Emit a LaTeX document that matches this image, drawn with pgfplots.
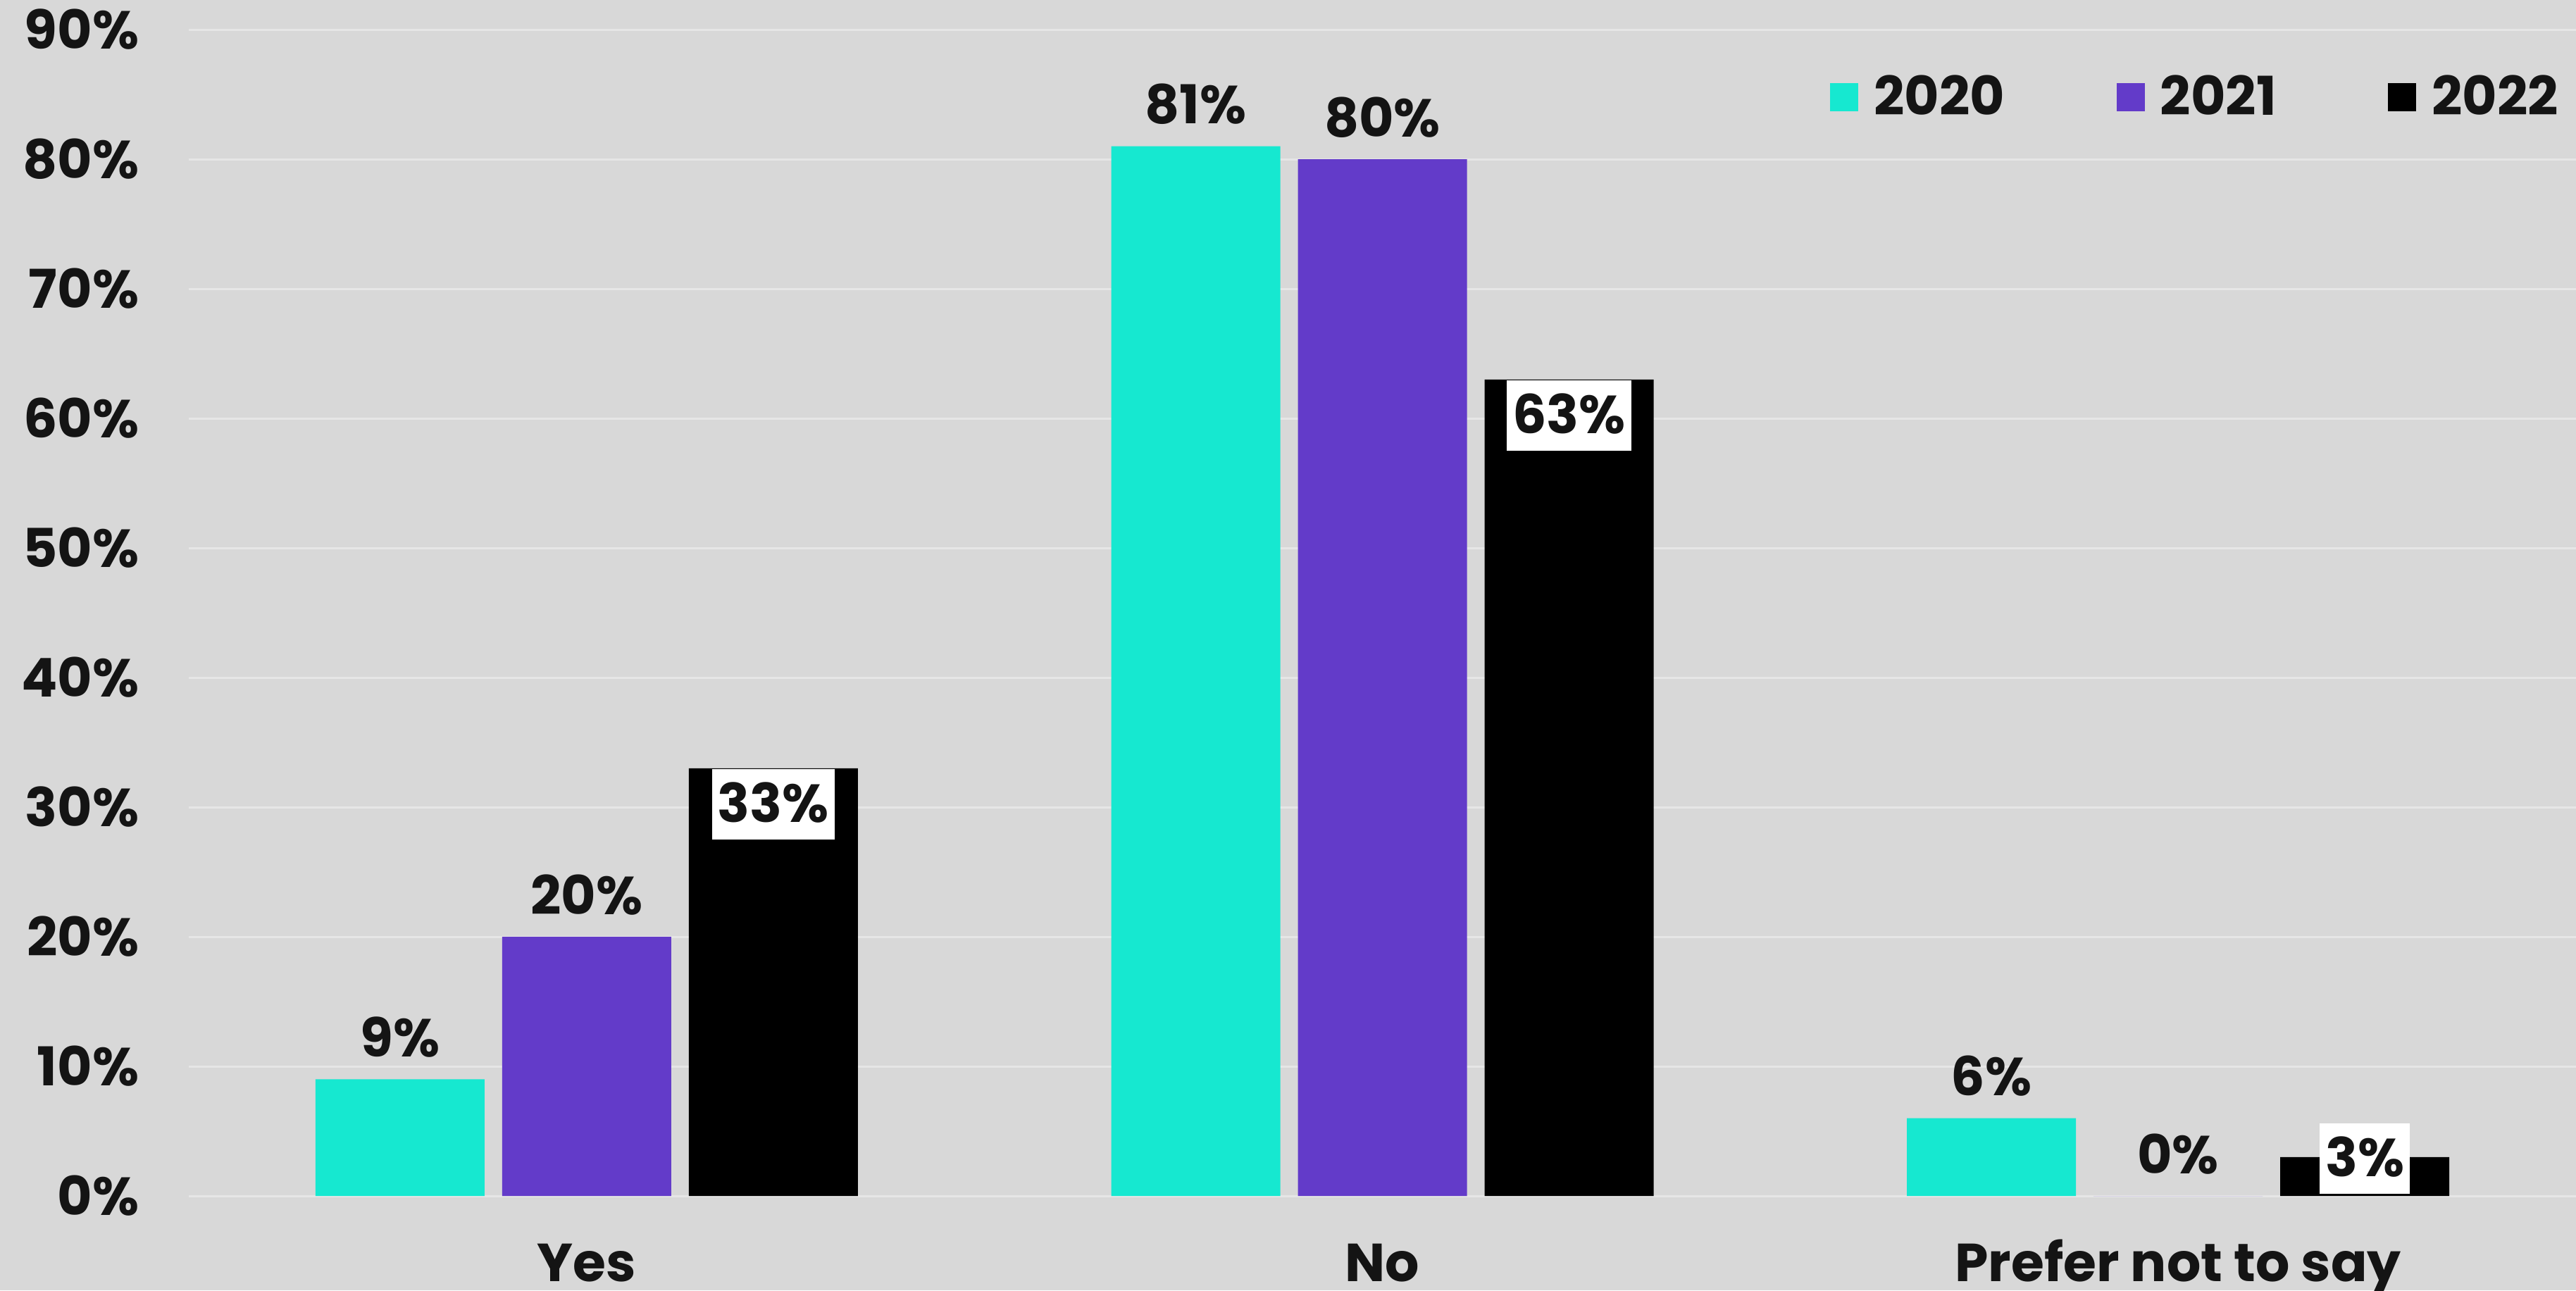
\documentclass[border=0pt]{standalone}
\usepackage{pgfplots}
\pgfplotsset{compat=1.18}
\usepackage{fontspec}
\setmainfont{Poppins}
\definecolor{bg}{HTML}{D8D8D8}
\definecolor{gridc}{HTML}{E6E6E6}
\definecolor{cy}{HTML}{16E8D0}
\definecolor{pu}{HTML}{633BC9}
\definecolor{tx}{HTML}{141414}
\pgfplotstableread{
x y off
0 33 0
1 63 0
2 3 12.25
}\tbltwo
\begin{document}
\begin{tikzpicture}[font=\fontsize{19}{22}\selectfont\bfseries, text=tx]
\fill[bg] (-67pt,-33.5pt) rectangle (847.25pt,424.5pt);
\begin{axis}[
  at={(0,0)}, anchor=south west,
  scale only axis, width=847.25pt, height=414pt,
  xmin=-0.5, xmax=2.5, ymin=0, ymax=90,
  ybar=6.25pt, bar width=60pt,
  clip=false,
  axis line style={draw=none},
  tick style={draw=none},
  ytick={0,10,...,90},
  yticklabels={0\%,10\%,20\%,30\%,40\%,50\%,60\%,70\%,80\%,90\%},
  xtick={0,1,2},
  xticklabels={Yes,No,Prefer not to say},
  yticklabel style={anchor=east, inner sep=0pt, xshift=-17.5pt},
  xticklabel style={anchor=north, inner sep=0pt, yshift=-12pt, text height=14pt, text depth=4pt},
  ymajorgrids, grid style={color=gridc, line width=0.75pt},
  /pgf/number format/assume math mode=true,
  legend columns=3,
  legend style={at={(rel axis cs:1,1)}, anchor=east, xshift=-4pt, yshift=-24pt,
    draw=none, fill=none, inner sep=0pt,
    /tikz/every even column/.append style={column sep=37.7pt},
    font=\fontsize{19}{22}\selectfont\bfseries},
  legend cell align=left,
]
\addplot[fill=cy, draw=none,
  legend image code/.code={\fill[cy] (0pt,-5pt) rectangle (10pt,5pt); \path (13.5pt,0pt);},
  nodes near coords={\pgfmathprintnumber{\pgfplotspointmeta}\%},
  every node near coord/.append style={anchor=base, yshift=8pt, inner sep=0pt, text=tx}]
  coordinates {(0,9) (1,81) (2,6)};
\addplot[fill=pu, draw=none,
  legend image code/.code={\fill[pu] (0pt,-5pt) rectangle (10pt,5pt); \path (13.5pt,0pt);},
  nodes near coords={\pgfmathprintnumber{\pgfplotspointmeta}\%},
  every node near coord/.append style={anchor=base, yshift=8pt, inner sep=0pt, text=tx}]
  coordinates {(0,20) (1,80) (2,0)};
\addplot[fill=black, draw=none,
  legend image code/.code={\fill[black] (0pt,-5pt) rectangle (10pt,5pt); \path (13.5pt,0pt);},
  visualization depends on={\thisrow{off} \as \myoff},
  nodes near coords={\pgfmathprintnumber{\pgfplotspointmeta}\%},
  every node near coord/.append style={anchor=north, yshift=\myoff pt, fill=white,
    inner xsep=2pt, inner ysep=5pt, text height=14pt, text depth=1pt, text=tx}]
  table[x=x, y=y] {\tbltwo};
\legend{2020,2021,2022}
\end{axis}
\pgfresetboundingbox
\useasboundingbox (-67pt,-33.5pt) rectangle (847.25pt,424.5pt);
\end{tikzpicture}
\end{document}
